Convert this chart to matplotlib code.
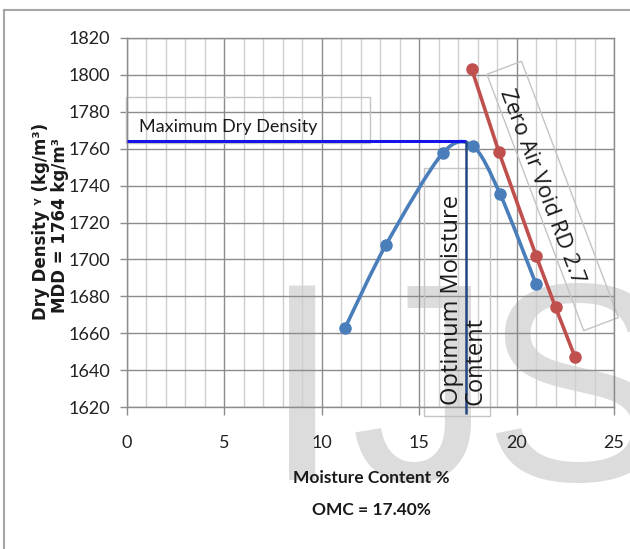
import matplotlib
matplotlib.use("Agg")
import matplotlib.pyplot as plt
import matplotlib.transforms as mtransforms
from matplotlib.path import Path
from matplotlib.patches import PathPatch, Rectangle
from matplotlib.lines import Line2D
import numpy as np

# Proctor compaction test results
moisture = [11.2, 13.3, 16.2, 17.75, 19.15, 21.0]
dry_density = [1663, 1708, 1757.5, 1761.5, 1735.5, 1686.5]

# Zero air void line (specific gravity 2.7)
zav_moisture = [17.7, 19.1, 21.0, 22.0, 23.0]
zav_density = [1803, 1758, 1702, 1674, 1647]

mdd = 1764      # maximum dry density, kg/m3
omc = 17.4      # optimum moisture content, %

x_ticks = [0, 5, 10, 15, 20, 25]
x_minor = list(range(0, 26))
y_ticks = list(range(1620, 1821, 20))

BLUE = "#4a7ebb"
RED = "#c0504d"
BODY = ["Lato", "DejaVu Sans"]


def smooth_path(xs, ys, k=0.15):
    """Cardinal-spline Bezier path through the points (spreadsheet smoothing)."""
    pts = np.column_stack([xs, ys]).astype(float)
    n = len(pts)
    verts = [pts[0]]
    codes = [Path.MOVETO]
    for i in range(n - 1):
        p0 = pts[i - 1] if i > 0 else pts[i]
        p1, p2 = pts[i], pts[i + 1]
        p3 = pts[i + 2] if i + 2 < n else pts[i + 1]
        verts += [p1 + (p2 - p0) * k, p2 - (p3 - p1) * k, p2]
        codes += [Path.CURVE4] * 3
    return Path(verts, codes)


fig = plt.figure(figsize=(6.30, 5.49), dpi=100)
fig.patch.set_facecolor("white")
W, H = 630.0, 549.0
ax = fig.add_axes([127 / W, 1 - 407 / H, (614 - 127) / W, (407 - 38) / H])
ax.set_facecolor("none")

# Watermark letters behind the plot
for ch, px in (("I", 263), ("J", 351), ("S", 482)):
    fig.text(px / W, 1 - 480 / H, ch, fontsize=203, family="Liberation Sans",
             color="#dcdcdc", ha="left", va="baseline", zorder=-1)

ax.set_xlim(0, 25)
ax.set_ylim(1620, 1820)
ax.set_xticks(x_ticks)
ax.set_xticks(x_minor, minor=True)
ax.set_yticks(y_ticks)
ax.grid(which="major", color="#8c8c8c", lw=1.0, zorder=0)
ax.grid(which="minor", axis="x", color="#cfcfcf", lw=1.0, zorder=0)
ax.set_axisbelow(True)
for s in ax.spines.values():
    s.set_color("#8c8c8c")
    s.set_linewidth(1.0)
ax.tick_params(which="major", axis="y", length=5, width=1, color="#8c8c8c",
               pad=7, labelsize=13, labelcolor="#222222")
ax.tick_params(which="major", axis="x", length=6, width=1, color="#8c8c8c",
               pad=14, labelsize=13, labelcolor="#222222")
ax.tick_params(which="minor", length=0)
for lab in ax.get_xticklabels() + ax.get_yticklabels():
    lab.set_family(BODY)

# Compaction curve
ax.add_patch(PathPatch(smooth_path(moisture, dry_density), facecolor="none",
                       edgecolor=BLUE, lw=2.6, capstyle="round", zorder=3))
ax.plot(moisture, dry_density, "o", color=BLUE, ms=8, zorder=4)

# Zero air void line
ax.plot(zav_moisture, zav_density, "-o", color=RED, lw=2.6, ms=8, zorder=4)

# MDD and OMC markers
ax.plot([0, omc], [mdd, mdd], color="#1414e6", lw=2.2, zorder=5,
        solid_capstyle="butt")
ax.plot([omc, omc], [mdd, 1616], color="#23467f", lw=1.8, zorder=5,
        clip_on=False, solid_capstyle="butt")

# Annotation boxes and labels
ax.add_patch(Rectangle((-0.07, 1763), 12.52, 25, facecolor="none",
                       edgecolor="#c4c4c4", lw=1, clip_on=False, zorder=2))
ax.text(0.62, 1769, "Maximum Dry Density", family=BODY, fontsize=13,
        color="#1a1a1a", ha="left", va="baseline", zorder=6)

ax.add_patch(Rectangle((15.27, 1615), 3.38, 134.5, facecolor="none",
                       edgecolor="#c4c4c4", lw=1, clip_on=False, zorder=2))
ax.text(16.97, 1621, "Optimum Moisture", family="Open Sans", fontsize=17,
        rotation=90, rotation_mode="anchor", ha="left", va="baseline",
        color="#1a1a1a", zorder=6)
ax.text(18.21, 1621, "Content", family="Open Sans", fontsize=17,
        rotation=90, rotation_mode="anchor", ha="left", va="baseline",
        color="#1a1a1a", zorder=6)

zav_angle = -69.3
zav_box = Rectangle((-1.37, -0.185), 2.74, 0.37, facecolor="none",
                    edgecolor="#c4c4c4", lw=1, clip_on=False, zorder=2)
zav_box.set_transform(mtransforms.Affine2D().rotate_deg(zav_angle)
                      + fig.dpi_scale_trans
                      + mtransforms.ScaledTranslation(21.85, 1734.4, ax.transData))
ax.add_patch(zav_box)
ax.text(21.28, 1739.2, "Zero Air Void RD 2.7", family="Open Sans", fontsize=16,
        rotation=zav_angle, rotation_mode="anchor", ha="center", va="center",
        color="#1a1a1a", zorder=6)

# Axis titles
fig.text(41 / W, 1 - 221 / H, "Dry Density ᵞ (kg/m³)", rotation=90,
         family="DejaVu Sans", fontweight="bold", fontsize=12,
         ha="center", va="center", color="#1a1a1a")
fig.text(60 / W, 1 - 226 / H, "MDD = 1764 kg/m³", rotation=90,
         family="DejaVu Sans", fontweight="bold", fontsize=12,
         ha="center", va="center", color="#1a1a1a")
fig.text(371 / W, 1 - 478 / H, "Moisture Content %", family=BODY,
         fontweight="bold", fontsize=12.5, ha="center", va="center",
         color="#1a1a1a")
fig.text(371 / W, 1 - 510 / H, "OMC = 17.40%", family=BODY,
         fontweight="bold", fontsize=12.5, ha="center", va="center",
         color="#1a1a1a")

# Chart frame
fig.add_artist(Line2D([4 / W, 1], [1 - 10 / H, 1 - 10 / H],
                      transform=fig.transFigure, color="#a6a6a6", lw=1.5))
fig.add_artist(Line2D([4 / W, 4 / W], [0, 1 - 10 / H],
                      transform=fig.transFigure, color="#a6a6a6", lw=1.5))

fig.savefig("out.png", dpi=100)
